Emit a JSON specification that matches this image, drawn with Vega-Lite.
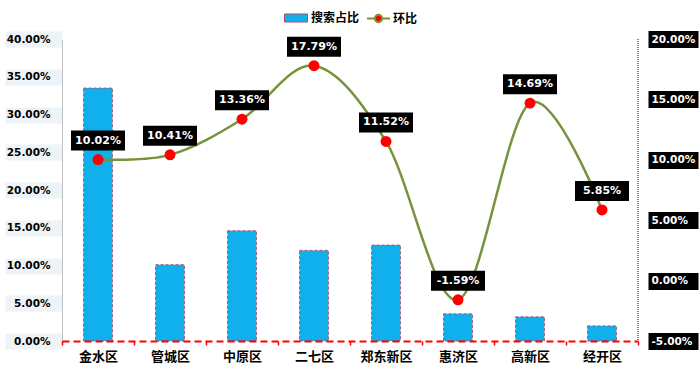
{
  "$schema": "https://vega.github.io/schema/vega-lite/v6.json",
  "width": 576,
  "height": 302,
  "autosize": {"type": "none"},
  "padding": {"left": 62, "top": 39, "right": 62, "bottom": 33},
  "background": "white",
  "config": {
    "view": {"stroke": null},
    "font": "DejaVu Sans",
    "locale": {"number": {"decimal": ".", "thousands": ",", "grouping": [3], "currency": ["$", ""], "minus": "-"}}
  },
  "data": {
    "values": [
      {"district": "金水区", "share": 0.335, "ratio": 0.1002},
      {"district": "管城区", "share": 0.101, "ratio": 0.1041},
      {"district": "中原区", "share": 0.146, "ratio": 0.1336},
      {"district": "二七区", "share": 0.120, "ratio": 0.1779},
      {"district": "郑东新区", "share": 0.127, "ratio": 0.1152},
      {"district": "惠济区", "share": 0.036, "ratio": -0.0159},
      {"district": "高新区", "share": 0.032, "ratio": 0.1469},
      {"district": "经开区", "share": 0.020, "ratio": 0.0585}
    ]
  },
  "encoding": {
    "x": {
      "field": "district",
      "type": "nominal",
      "sort": null,
      "title": null,
      "scale": {"paddingInner": 0, "paddingOuter": 0},
      "axis": {
        "zindex": 2,
        "tickBand": "extent",
        "domainColor": "#ff0000",
        "domainWidth": 2,
        "domainDash": [7, 4],
        "tickColor": "#ff0000",
        "tickWidth": 1.5,
        "tickSize": 4,
        "labelAngle": 0,
        "labelFont": "Noto Sans CJK SC",
        "labelFontSize": 13,
        "labelFontWeight": "bold",
        "labelColor": "#000000",
        "labelPadding": 5
      }
    }
  },
  "layer": [
    {
      "mark": {
        "type": "bar",
        "width": {"band": 0.4},
        "stroke": "#b0506a",
        "strokeDash": [3, 2],
        "strokeWidth": 1
      },
      "encoding": {
        "y": {
          "field": "share",
          "type": "quantitative",
          "title": null,
          "scale": {"domain": [0, 0.4], "nice": false},
          "axis": {
            "orient": "left",
            "values": [0, 0.05, 0.1, 0.15, 0.2, 0.25, 0.3, 0.35, 0.4],
            "format": ".2%",
            "grid": false,
            "domainColor": "#888888",
            "domainDash": [1, 1],
            "domainWidth": 1,
            "tickColor": "#eef3f8",
            "tickSize": 57,
            "tickWidth": 16,
            "labelPadding": -45,
            "labelFont": "DejaVu Sans",
            "labelFontSize": 10.5,
            "labelFontWeight": "bold",
            "labelColor": "#000000"
          }
        },
        "fill": {
          "datum": "搜索占比",
          "type": "nominal",
          "scale": {"domain": ["搜索占比"], "range": ["#0fb0ec"]},
          "legend": {
            "orient": "none",
            "legendX": 222,
            "legendY": -33,
            "direction": "horizontal",
            "title": null,
            "labelFont": "Noto Sans CJK SC",
            "labelFontSize": 12,
            "labelFontWeight": "bold",
            "labelColor": "#000000",
            "symbolType": "M-1,-0.35H1V0.35H-1Z",
            "symbolSize": 529,
            "symbolStrokeColor": "#b0506a",
            "symbolStrokeWidth": 1,
            "labelOffset": 3
          }
        }
      }
    },
    {
      "mark": {"type": "rule", "stroke": "#888888", "strokeDash": [1, 1], "strokeWidth": 1},
      "encoding": {"x": {"value": "width"}}
    },
    {
      "layer": [
        {
          "mark": {"type": "line", "interpolate": "cardinal", "strokeWidth": 2.5},
          "encoding": {
            "stroke": {
              "datum": "环比",
              "type": "nominal",
              "scale": {"domain": ["环比"], "range": ["#77933c"]},
              "legend": {
                "orient": "none",
                "legendX": 304,
                "legendY": -33,
                "direction": "horizontal",
                "title": null,
                "labelFont": "Noto Sans CJK SC",
                "labelFontSize": 12,
                "labelFontWeight": "bold",
                "labelColor": "#000000",
                "symbolType": "M-1,0H-0.3M0.3,0H1M0.32,0A0.32,0.32 0 1,1 -0.32,0A0.32,0.32 0 1,1 0.32,0Z",
                "symbolSize": 529,
                "symbolFillColor": "#ff0000",
                "symbolStrokeWidth": 2,
                "labelOffset": 2
              }
            }
          }
        },
        {
          "mark": {"type": "point", "filled": true, "fill": "#ff0000", "stroke": null, "size": 120, "opacity": 1},
          "encoding": {}
        },
        {
          "mark": {"type": "point", "filled": true, "fill": "#000000", "stroke": null, "opacity": 1, "size": 2916, "shape": "M-1,-0.37H1V0.37H-1Z", "yOffset": -19},
          "encoding": {}
        },
        {
          "mark": {"type": "text", "color": "#ffffff", "font": "DejaVu Sans", "fontSize": 11, "fontWeight": "bold", "baseline": "middle", "align": "center", "yOffset": -19},
          "encoding": {"text": {"field": "ratio", "type": "quantitative", "format": ".2%"}}
        }
      ],
      "encoding": {
        "y": {
          "field": "ratio",
          "type": "quantitative",
          "title": null,
          "scale": {"domain": [-0.05, 0.2], "nice": false},
          "axis": {
            "orient": "right",
            "values": [-0.05, 0, 0.05, 0.1, 0.15, 0.2],
            "format": ".2%",
            "grid": false,
            "offset": 10,
            "domain": false,
            "tickColor": "#000000",
            "tickSize": 50,
            "tickWidth": 17,
            "labelPadding": -47,
            "labelFont": "DejaVu Sans",
            "labelFontSize": 10.5,
            "labelFontWeight": "bold",
            "labelColor": "#ffffff"
          }
        }
      }
    }
  ],
  "resolve": {"scale": {"y": "independent"}}
}
